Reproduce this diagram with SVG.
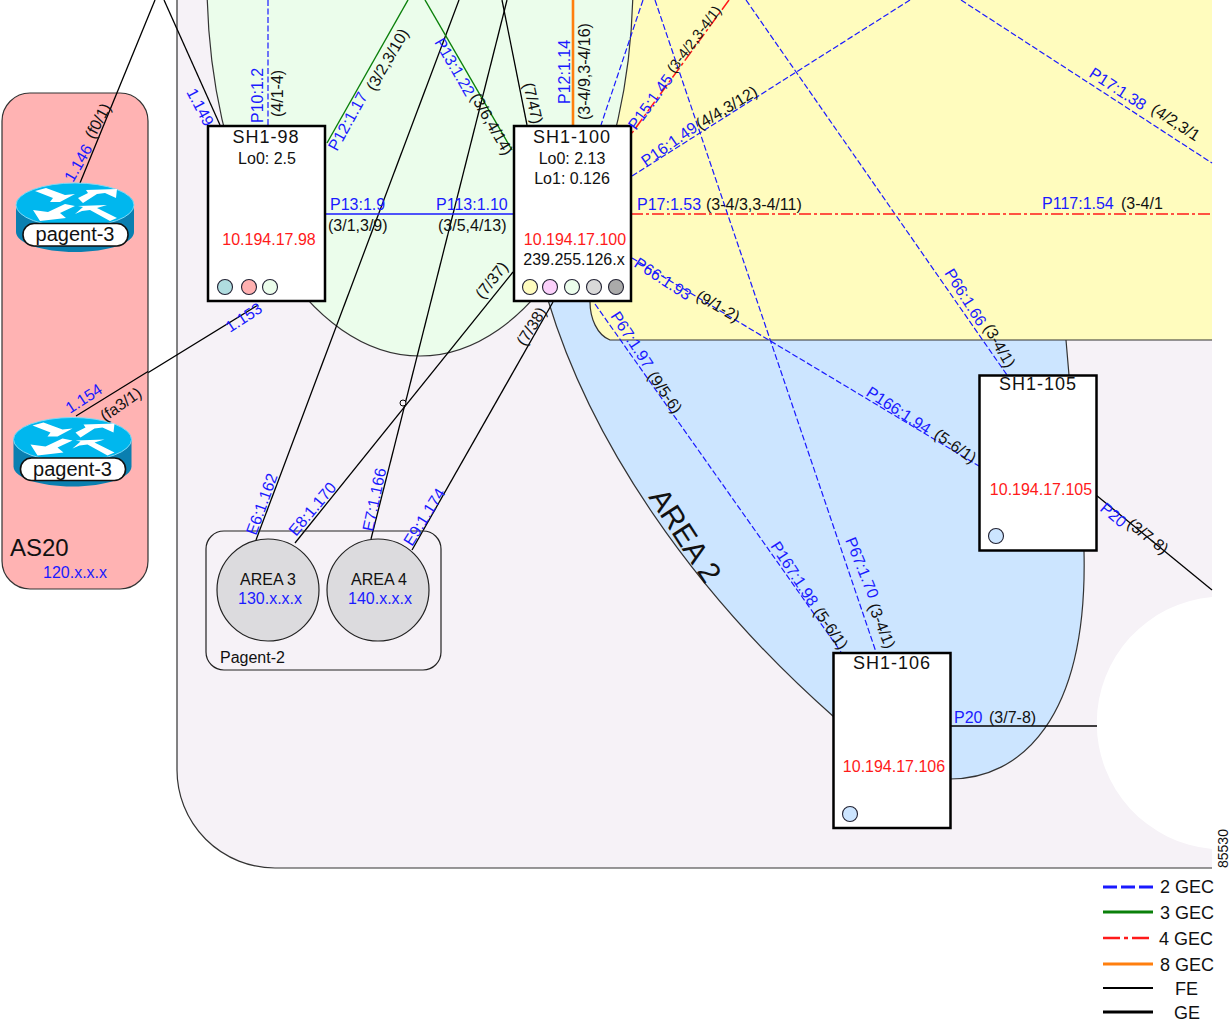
<svg xmlns="http://www.w3.org/2000/svg" width="1230" height="1021" viewBox="0 0 1230 1021">
<style>
text{font-family:"Liberation Sans",Arial,sans-serif;font-size:16px;fill:#111}
.b{fill:#1a1aff}.r{fill:#ff1a1a}.m{text-anchor:middle}
.t{font-size:18px;letter-spacing:1px}
.box{fill:#fff;stroke:#000;stroke-width:2.5}
.dot{stroke:#223;stroke-width:1.1}
.fe{stroke:#000;stroke-width:1.3}
.g2{stroke:#1a1aff;stroke-width:1.2;stroke-dasharray:6 2.5}
.g3{stroke:#0a800a;stroke-width:1.4}
.g4{stroke:#ff1a1a;stroke-width:1.5;stroke-dasharray:12 3 3 3}
.g8{stroke:#ff7f0e;stroke-width:2.6}
.s{stroke:#1a1aff;stroke-width:1.5}
</style>
<defs>
<g id="router">
<path d="M16 205V232C16 243 42 252 75 252S134 243 134 232V205Z" fill="#0a7fb0"/>
<ellipse cx="75" cy="205" rx="59" ry="22" fill="#00b7ee" stroke="#7fd8f5" stroke-width="1"/>
<path fill="#fff" d="M35 191L46 188L65 195L75 194L60 202L50 202L53 198ZM78 198L88 193L86 190L117 189L116 198L105 193L97 194L83 203ZM33 210L48 212L65 204L75 206L60 213L66 218L40 221ZM75 214L83 207L78 206L107 205L97 208L117 218L110 221L90 210L82 211Z"/>
<rect x="23" y="223.500" width="105" height="22.500" rx="11" fill="#fff" stroke="#111" stroke-width="1.6"/>
</g>
</defs>
<rect width="1230" height="1021" fill="#fff"/>
<g id="regions">
<path d="M177 0V770A98 98 0 0 0 275 868H1212V849A126.500 126.500 0 0 1 1212 597V0Z" fill="#f6f2f7"/>
<path d="M177 0V770A98 98 0 0 0 275 868H1212" fill="none" stroke="#333" stroke-width="1.2"/>
<path d="M548 300C590 440 690 590 834 717L950 779C1020 779 1088 720 1084 551L1066 340L1066 290H560Z" fill="#cce5ff" stroke="#333" stroke-width="1.2"/>
<path d="M560 0H1212V340H610C597 335 590 318 590 302H560Z" fill="#fffcbe"/>
<path d="M1212 340H610C597 335 590 318 590 302" fill="none" stroke="#333" stroke-width="1.2"/>
<ellipse cx="420" cy="-19" rx="213" ry="375" fill="#ebfdeb" stroke="#333" stroke-width="1.2"/>
</g>
<g id="connectors">
<line class="fe" x1="164" y1="0" x2="220" y2="125"/>
<line class="fe" x1="258" y1="305" x2="76" y2="417"/>
<line class="fe" x1="256" y1="540" x2="459" y2="0"/>
<line class="fe" x1="371" y1="539" x2="507" y2="0"/>
<line class="fe" x1="295" y1="543" x2="513" y2="272"/>
<line class="fe" x1="412" y1="550" x2="553" y2="302"/>
<line class="fe" x1="502" y1="0" x2="527" y2="125"/>
<line class="fe" x1="1096" y1="495" x2="1212" y2="590"/>
<line class="fe" x1="950" y1="726" x2="1097" y2="726"/>
<circle cx="403" cy="403" r="3" fill="#f6f2f7" stroke="#000" stroke-width="1"/>
<line class="g2" x1="268" y1="0" x2="268" y2="125"/>
<line class="g2" x1="643" y1="0" x2="601" y2="125"/>
<line class="g2" x1="655" y1="0" x2="876" y2="652"/>
<line class="g2" x1="746" y1="0" x2="1007" y2="375"/>
<line class="g2" x1="910" y1="0" x2="632" y2="176"/>
<line class="g2" x1="961" y1="0" x2="1212" y2="163"/>
<line class="g2" x1="632" y1="258" x2="979" y2="466"/>
<line class="g2" x1="595" y1="304" x2="841" y2="652"/>
<line class="g3" x1="327" y1="143" x2="408" y2="0"/>
<line class="g3" x1="425" y1="0" x2="512" y2="150"/>
<line class="g4" x1="729" y1="0" x2="632" y2="133"/>
<line class="g4" x1="631" y1="214" x2="1212" y2="214"/>
<line class="g8" x1="573" y1="0" x2="573" y2="125"/>
<line class="s" x1="326" y1="214" x2="513" y2="214"/>
</g>
<g id="AS20">
<rect x="2" y="93" width="146" height="496" rx="28" fill="#ffb3b3" stroke="#333" stroke-width="1.2"/>
</g>
<g id="connectors-as20">
<line class="fe" x1="155" y1="0" x2="80" y2="183"/>
<line class="fe" x1="148" y1="371.500" x2="76" y2="416"/>
</g>
<g id="pagent-3a"><use href="#router"/><text class="m" x="75" y="241" style="font-size:20px">pagent-3</text></g>
<g id="pagent-3b"><use href="#router" transform="translate(-2.500 234.500)"/><text class="m" x="72.500" y="475.500" style="font-size:20px">pagent-3</text></g>
<g id="pagent-2">
<rect x="206" y="531" width="235" height="139" rx="18" fill="none" stroke="#222" stroke-width="1.2"/>
<text x="220" y="663">Pagent-2</text>
</g>
<g id="area3"><circle cx="268" cy="590" r="51" fill="#dcdbde" stroke="#222" stroke-width="1.2"/><text class="m" x="268" y="585">AREA 3</text><text class="m b" x="270" y="604">130.x.x.x</text></g>
<g id="area4"><circle cx="378" cy="590" r="51" fill="#dcdbde" stroke="#222" stroke-width="1.2"/><text class="m" x="379" y="585">AREA 4</text><text class="m b" x="380" y="604">140.x.x.x</text></g>
<g id="SH1-98">
<rect class="box" x="208" y="126" width="117" height="175"/>
<text class="m t" x="266" y="143">SH1-98</text>
<text class="m" x="267" y="164">Lo0: 2.5</text>
<text class="m r" x="269" y="245">10.194.17.98</text>
<circle class="dot" cx="225" cy="287" r="7.500" fill="#b0dde0"/><circle class="dot" cx="249" cy="287" r="7.500" fill="#ffb0b0"/><circle class="dot" cx="270" cy="287" r="7.500" fill="#ebfdeb"/>
</g>
<g id="SH1-100">
<rect class="box" x="514" y="126" width="117" height="175"/>
<text class="m t" x="572" y="143">SH1-100</text>
<text class="m" x="572" y="164">Lo0: 2.13</text>
<text class="m" x="572" y="184">Lo1: 0.126</text>
<text class="m r" x="575" y="245">10.194.17.100</text>
<text class="m" x="574" y="265">239.255.126.x</text>
<circle class="dot" cx="530" cy="287" r="7.500" fill="#fffcbe"/><circle class="dot" cx="550" cy="287" r="7.500" fill="#fbd0fb"/><circle class="dot" cx="572" cy="287" r="7.500" fill="#ebfdeb"/><circle class="dot" cx="594" cy="287" r="7.500" fill="#d8d8d8"/><circle class="dot" cx="616" cy="287" r="7.500" fill="#aaa"/>
</g>
<g id="SH1-105">
<rect class="box" x="979.500" y="375.500" width="117" height="175"/>
<text class="m t" x="1038" y="390">SH1-105</text>
<text class="m r" x="1041" y="495">10.194.17.105</text>
<circle class="dot" cx="996" cy="536" r="7.500" fill="#cce5ff"/>
</g>
<g id="SH1-106">
<rect class="box" x="833.500" y="653" width="117" height="175"/>
<text class="m t" x="892" y="669">SH1-106</text>
<text class="m r" x="894" y="772">10.194.17.106</text>
<circle class="dot" cx="850" cy="814" r="7.500" fill="#cce5ff"/>
</g>
<g id="labels">
<text x="10" y="556" style="font-size:24px">AS20</text>
<text class="m b" x="75" y="578">120.x.x.x</text>
<text transform="translate(648 497) rotate(57)" style="font-size:30px">AREA 2</text>
<text class="b" transform="translate(263 123) rotate(-90)">P10:1.2</text>
<text transform="translate(283 117) rotate(-90)">(4/1-4)</text>
<text class="b" transform="translate(186 92) rotate(62)">1.149</text>
<text class="b" transform="translate(337 152) rotate(-61)">P12:1.17</text>
<text transform="translate(375 92) rotate(-60)">(3/2,3/10)</text>
<text class="b" transform="translate(434 42) rotate(60)">P13:1.22</text>
<text transform="translate(470 97) rotate(60)">(3/6,4/14)</text>
<text transform="translate(523 84) rotate(77)">(7/47)</text>
<text class="b" transform="translate(570 104) rotate(-90)">P12:1.14</text>
<text transform="translate(590 120) rotate(-90)">(3-4/9,3-4/16)</text>
<text class="b" transform="translate(636 131) rotate(-54)">P15:1.45</text>
<text transform="translate(674 74) rotate(-53)" style="font-size:14.500px">(3-4/2,3-4/1)</text>
<text class="b" transform="translate(646 167) rotate(-35)">P16:1.49</text>
<text transform="translate(700 130) rotate(-31)">(4/4,3/12)</text>
<text class="b" x="637" y="210">P17:1.53</text>
<text x="706" y="210">(3-4/3,3-4/11)</text>
<text class="b" x="1042" y="209">P117:1.54</text>
<text x="1121" y="209">(3-4/1</text>
<text class="b" transform="translate(1088 76) rotate(33)">P17:1.38</text>
<text transform="translate(1150 112) rotate(33)">(4/2,3/1</text>
<text class="b" transform="translate(633 266) rotate(33)">P66:1.93</text>
<text transform="translate(695 299) rotate(30)">(9/1-2)</text>
<text class="b" transform="translate(944 273) rotate(58)">P66:1.66</text>
<text transform="translate(983 328) rotate(60)">(3-4/1)</text>
<text class="b" transform="translate(610 316) rotate(57)">P67:1.97</text>
<text transform="translate(647 376) rotate(55)">(9/5-6)</text>
<text class="b" transform="translate(865 395) rotate(33)">P166:1.94</text>
<text transform="translate(933 437) rotate(35)">(5-6/1)</text>
<text class="b" transform="translate(770 546) rotate(57)">P167:1.98</text>
<text transform="translate(813 612) rotate(55)">(5-6/1)</text>
<text class="b" transform="translate(845 540) rotate(68)">P67:1.70</text>
<text transform="translate(868 606) rotate(68)">(3-4/1)</text>
<text class="b" transform="translate(1099 510) rotate(40)">P20</text>
<text transform="translate(1126 526) rotate(38)">(3/7-8)</text>
<text class="b" x="954" y="723">P20</text>
<text x="989" y="723">(3/7-8)</text>
<text class="b" transform="translate(230 333) rotate(-33)">1.153</text>
<text class="b" transform="translate(70 414) rotate(-33)">1.154</text>
<text transform="translate(105 422) rotate(-35)">(fa3/1)</text>
<text class="b" transform="translate(73 183) rotate(-60)">1.146</text>
<text transform="translate(94 140) rotate(-62)">(f0/1)</text>
<text class="b" transform="translate(256 536) rotate(-70)">E6:1.162</text>
<text class="b" transform="translate(296 537) rotate(-50)">E8:1.170</text>
<text class="b" transform="translate(373 532) rotate(-78)">E7:1.166</text>
<text class="b" transform="translate(412 547) rotate(-58)">E9:1.174</text>
<text transform="translate(483 300) rotate(-52)">(7/37)</text>
<text transform="translate(525 347) rotate(-58)">(7/38)</text>
<text class="b" x="330" y="210">P13:1.9</text>
<text x="328" y="231">(3/1,3/9)</text>
<text class="b" x="436" y="210">P113:1.10</text>
<text x="438" y="231">(3/5,4/13)</text>
<text transform="translate(1228 868) rotate(-90)" style="font-size:14px">85530</text>
</g>
<g id="legend">
<line x1="1103" y1="887" x2="1153" y2="887" stroke="#1a1aff" stroke-width="3" stroke-dasharray="14 4"/>
<line x1="1103" y1="912" x2="1153" y2="912" stroke="#0a800a" stroke-width="3"/>
<line x1="1103" y1="938" x2="1153" y2="938" stroke="#ff1a1a" stroke-width="2.500" stroke-dasharray="17 4 4 4"/>
<line x1="1103" y1="964" x2="1153" y2="964" stroke="#ff7f0e" stroke-width="3"/>
<line x1="1103" y1="988" x2="1153" y2="988" stroke="#000" stroke-width="2"/>
<line x1="1103" y1="1012" x2="1153" y2="1012" stroke="#000" stroke-width="3"/>
<text x="1160" y="893" style="font-size:18px">2 GEC</text>
<text x="1160" y="919" style="font-size:18px">3 GEC</text>
<text x="1159" y="945" style="font-size:18px">4 GEC</text>
<text x="1160" y="971" style="font-size:18px">8 GEC</text>
<text x="1175" y="995" style="font-size:18px">FE</text>
<text x="1174" y="1019" style="font-size:18px">GE</text>
</g>
</svg>
